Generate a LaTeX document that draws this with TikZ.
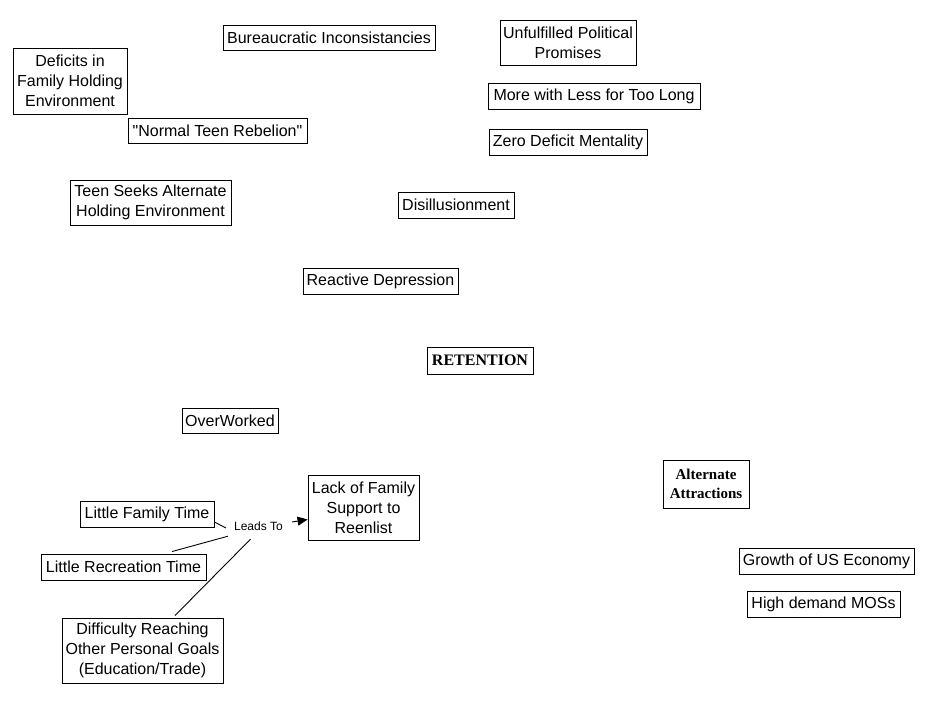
\documentclass[tikz,border=0pt]{standalone}
\usepackage{fontspec}
\setmainfont{Liberation Sans}
\newfontfamily\arialf{Liberation Sans}
\newfontfamily\timesfont{Liberation Serif}
\usetikzlibrary{arrows.meta}
\tikzset{
  box/.style={draw=black, line width=0.9pt, fill=white, inner sep=0pt, align=center,
    font=\arialf\fontsize{16}{20}\selectfont},
  boldbox/.style={box, font=\timesfont\bfseries\fontsize{15}{19}\selectfont},
  conn/.style={draw=black, line width=0.9pt},
  label/.style={inner xsep=6pt, inner ysep=0pt, minimum height=20pt, font=\arialf\fontsize{12}{14}\selectfont}
}
\begin{document}
\begin{tikzpicture}[x=1pt,y=-1pt]
\useasboundingbox (0,0) rectangle (926,703);
\fill[white] (0,0) rectangle (926,703);

\node[box, minimum width=114pt, minimum height=66pt] (deficits) at (70,81) {Deficits in\\Family Holding\\Environment};
\node[box, minimum width=212pt, minimum height=25pt] (bureau) at (329,37.5) {Bureaucratic Inconsistancies};
\node[box, minimum width=136pt, minimum height=45pt] (unfulfilled) at (568,42.5) {Unfulfilled Political\\Promises};
\node[box, minimum width=212pt, minimum height=26pt] (more) at (594,96) {More with Less for Too Long};
\node[box, minimum width=179pt, minimum height=25pt] (normal) at (217.5,130.5) {"Normal Teen Rebelion"};
\node[box, minimum width=158pt, minimum height=26pt] (zero) at (568,142) {Zero Deficit Mentality};
\node[box, minimum width=161pt, minimum height=45pt] (teen) at (150.5,202.5) {Teen Seeks Alternate\\Holding Environment};
\node[box, minimum width=116pt, minimum height=26pt] (disill) at (456,205) {Disillusionment};
\node[box, minimum width=155pt, minimum height=26pt] (reactive) at (380.5,281) {Reactive Depression};
\node[boldbox, minimum width=106pt, minimum height=27pt, font=\timesfont\bfseries\fontsize{16}{19}\selectfont] (retention) at (480,360.5) {RETENTION};
\node[box, minimum width=96pt, minimum height=25pt] (overworked) at (230,420.5) {OverWorked};
\node[boldbox, minimum width=86pt, minimum height=48pt] (alternate) at (706,484) {Alternate\\Attractions};
\node[box, minimum width=134pt, minimum height=26pt] (littlefam) at (147,514) {Little Family Time};
\node[label] (leads) at (258.5,526) {Leads To};
\node[box, minimum width=111pt, minimum height=65pt] (lack) at (363.5,507.5) {Lack of Family\\Support to\\Reenlist};
\node[box, minimum width=165pt, minimum height=26pt] (littlerec) at (123.5,567) {Little Recreation Time};
\node[box, minimum width=175pt, minimum height=26pt] (growth) at (826.5,561) {Growth of US Economy};
\node[box, minimum width=153pt, minimum height=26pt] (high) at (823.5,604) {High demand MOSs};
\node[box, minimum width=161pt, minimum height=65pt] (difficulty) at (142.5,650.5) {Difficulty Reaching\\Other Personal Goals\\(Education/Trade)};

\draw[conn] ([yshift=-8pt]littlefam.east) -- ([shift={(-2pt,-2pt)}]leads.west);
\draw[conn] ([xshift=48.5pt,yshift=2pt]littlerec.north) -- (leads.south west);
\draw[conn] ([xshift=32.5pt,yshift=2pt]difficulty.north) -- ([shift={(-8pt,-3pt)}]leads.south);
\draw[conn, -{Triangle[length=10pt,width=9pt]}] ([shift={(3pt,4pt)}]leads.east) -- ([yshift=-12pt]lack.west);
\end{tikzpicture}
\end{document}
